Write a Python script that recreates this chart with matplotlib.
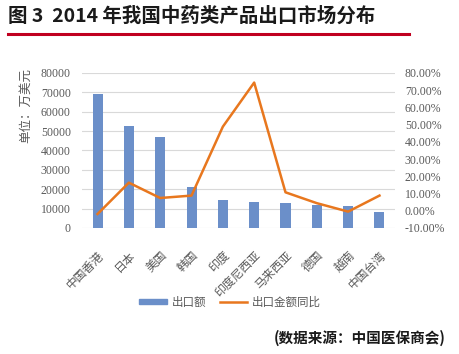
import matplotlib.pyplot as plt
from matplotlib.ticker import FuncFormatter
from matplotlib.lines import Line2D
from matplotlib.patches import Patch

plt.rcParams['font.family'] = ['Noto Sans CJK SC', 'DejaVu Sans']

countries = ["中国香港", "日本", "美国", "韩国", "印度", "印度尼西亚", "马来西亚", "德国", "越南", "中国台湾"]
export_value = [69000, 52800, 46800, 21200, 14600, 13300, 12900, 12000, 11200, 8300]
yoy_growth = [-1.9, 16.3, 7.4, 8.8, 48.8, 74.4, 10.7, 4.4, -0.5, 8.8]

blue = "#6B8FC9"
orange = "#E8771E"
gray = "#595959"

fig = plt.figure(figsize=(4.6, 3.54), dpi=100)
ax = fig.add_axes([0.178, 0.356, 0.681, 0.438])
ax2 = ax.twinx()

x = range(len(countries))
ax.bar(x, export_value, width=0.32, color=blue, zorder=2)
ax2.plot(x, yoy_growth, color=orange, lw=1.8, zorder=3)

ax.set_xlim(-0.5, len(countries) - 0.5)
ax.set_ylim(0, 80000)
ax.set_yticks(range(0, 80001, 10000))
ax2.set_ylim(-10, 80)
ax2.set_yticks(range(-10, 81, 10))
ax2.yaxis.set_major_formatter(FuncFormatter(lambda v, p: f"{v:.2f}%"))

ax.grid(axis="y", color="#D9D9D9", lw=0.8, zorder=0)
for a in (ax, ax2):
    for s in a.spines.values():
        s.set_visible(False)
    a.tick_params(length=0, colors=gray, labelsize=8.5)
ax.tick_params(axis="y", pad=8)
ax2.tick_params(axis="y", pad=7)
for lab in ax.get_yticklabels() + ax2.get_yticklabels():
    lab.set_family("Liberation Serif")
ax.set_xticks(list(x))
ax.set_xticklabels(countries, rotation=45, ha="right", rotation_mode="anchor", fontsize=8.5, color=gray)
ax.tick_params(axis="x", pad=15)
ax.set_ylabel("单位：万美元", color=gray, fontsize=9)
ax.yaxis.set_label_coords(-0.16, 0.79)

fig.text(0.018, 0.955, "图 3  2014 年我国中药类产品出口市场分布", fontsize=14,
         fontweight="bold", va="center", ha="left", color="#1A1A1A")
fig.add_artist(Line2D([0.018, 0.89], [0.905, 0.905], color="#C00020", lw=2.2))

handles = [Patch(color=blue), Line2D([], [], color=orange, lw=1.8)]
fig.legend(handles, ["出口额", "出口金额同比"], loc="center", bbox_to_anchor=(0.5, 0.147),
           ncol=2, frameon=False, fontsize=8.3, labelcolor=gray, handlelength=2.4,
           handleheight=0.35, columnspacing=1.2, handletextpad=0.4)

fig.text(0.968, 0.045, "(数据来源：中国医保商会)", fontsize=10.5, fontweight="bold",
         ha="right", va="center", color="#1A1A1A")

fig.savefig("out.png", dpi=100)
